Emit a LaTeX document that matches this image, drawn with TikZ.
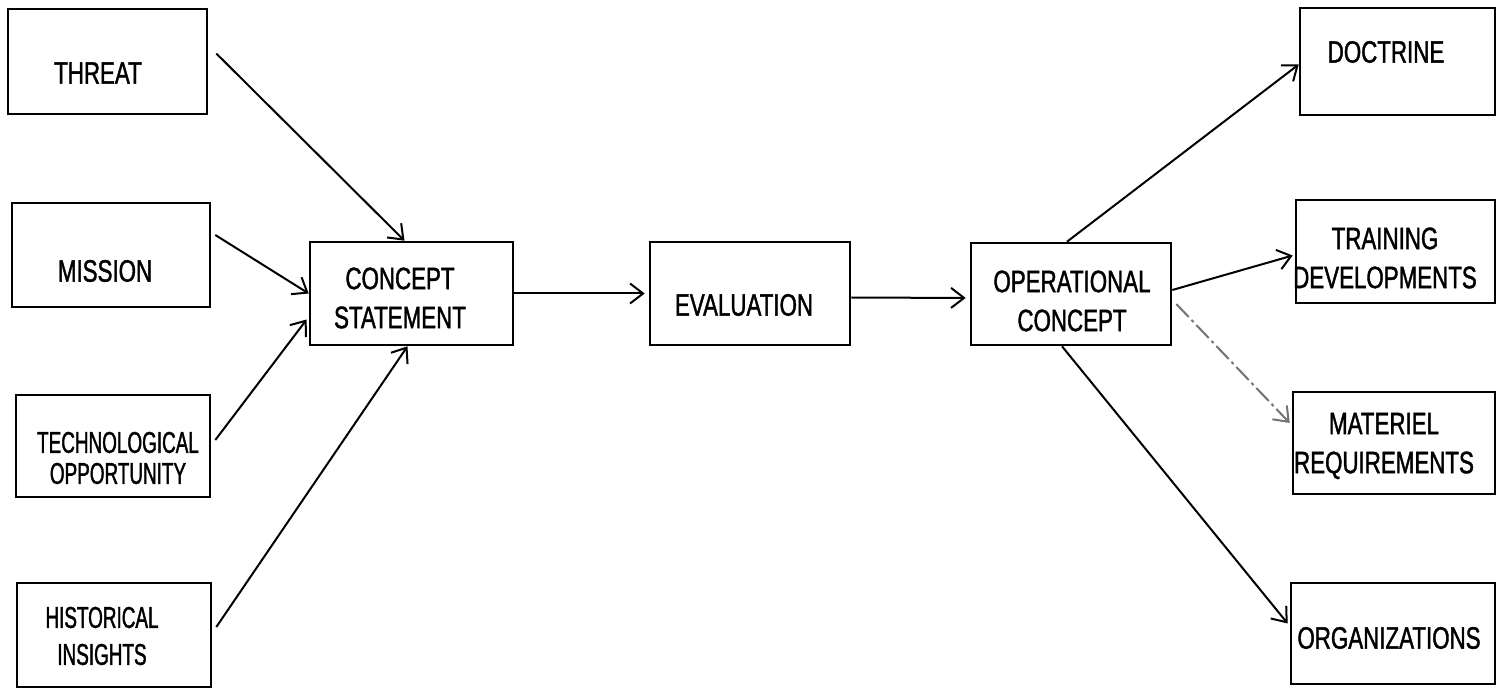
\documentclass[tikz,border=0pt]{standalone}
\usepackage{fontspec}
\setmainfont{Liberation Sans}[FakeStretch=0.72,FakeBold=1.3]
\newfontfamily\narrowfont{Liberation Sans}[FakeStretch=0.63,FakeBold=1.3]
\usetikzlibrary{arrows.meta}

\begin{document}
\begin{tikzpicture}[x=0.5pt,y=-0.5pt,
		box/.style={draw,line width=1.3pt,inner sep=0pt},
		lbl/.style={font=\fontsize{15.5}{19.5}\selectfont,align=center,inner sep=0pt},
		tight/.style={font=\narrowfont\fontsize{15}{#1}\selectfont,align=center,inner sep=0pt},
		arr/.style={-{Straight Barb[length=6.5pt,width=10pt]},line width=1pt},
		faint/.style={arr,black!55,dash pattern=on 9pt off 2pt on 1.5pt off 2pt}]
	\useasboundingbox (0,0) rectangle (1498,689);
	% inputs
	\node[box,minimum width=99.5pt,minimum height=52.5pt] (threat) at (107.5,61.5) {};
	\node[box,minimum width=99pt,minimum height=52pt] (mission) at (111,255) {};
	\node[box,minimum width=97pt,minimum height=51pt] (tech) at (113,446) {};
	\node[box,minimum width=97pt,minimum height=52pt] (hist) at (114,635) {};
	\node[lbl] (threat-l) at (98,73) {THREAT};
	\node[lbl] (mission-l) at (105,271) {MISSION};
	\node[tight=15.5] (tech-l) at (118,458) {TECHNOLOGICAL\\OPPORTUNITY};
	\node[tight=18.5] (hist-l) at (102,636) {HISTORICAL\\INSIGHTS};
	% main chain
	\node[box,minimum width=101.5pt,minimum height=51.5pt] (concept) at (411.5,293.5) {};
	\node[box,minimum width=100pt,minimum height=51.5pt] (eval) at (750,293.5) {};
	\node[box,minimum width=100pt,minimum height=51pt] (oper) at (1071,294) {};
	\node[lbl] (concept-l) at (400,298) {CONCEPT\\STATEMENT};
	\node[lbl] (eval-l) at (744,305) {EVALUATION};
	\node[lbl] (oper-l) at (1072,301) {OPERATIONAL\\CONCEPT};
	% outputs
	\node[box,minimum width=97.5pt,minimum height=53.5pt] (doctrine) at (1397.5,61.5) {};
	\node[box,minimum width=99.5pt,minimum height=51.5pt] (training) at (1395.5,251.5) {};
	\node[box,minimum width=101pt,minimum height=51pt] (materiel) at (1394,443) {};
	\node[box,minimum width=102pt,minimum height=50.5pt] (org) at (1393,633.5) {};
	\node[lbl] (doctrine-l) at (1386,52) {DOCTRINE};
	\node[lbl] (training-l) at (1385,258) {TRAINING\\DEVELOPMENTS};
	\node[lbl] (materiel-l) at (1384,446) {MATERIEL\\REQUIREMENTS};
	\node[lbl] (org-l) at (1389,638) {ORGANIZATIONS};
	% connectors
	\draw[arr] ([shift={(4pt,4pt)}]threat.east) -- ([xshift=-3.5pt]concept.north);
	\draw[arr] ([shift={(2pt,10pt)}]mission.east) -- (concept.west);
	\draw[arr] ([shift={(2pt,3pt)}]tech.east) -- ([shift={(-1pt,-13pt)}]concept.west);
	\draw[arr] ([shift={(2pt,4pt)}]hist.east) -- ([xshift=-2pt]concept.south);
	\draw[arr,shorten >=2pt] (concept.east) -- (eval.west);
	\draw[arr,shorten >=2pt] ([yshift=-2pt]eval.east) -- ([yshift=-2pt]oper.west);
	\draw[arr] ([xshift=-2pt]oper.north) -- ([yshift=-1.5pt]doctrine.west);
	\draw[arr] ([yshift=2pt]oper.east) -- ([shift={(-1pt,-2pt)}]training.west);
	\draw[faint] ([shift={(2pt,-5pt)}]oper.east) -- ([shift={(-1pt,10pt)}]materiel.west);
	\draw[arr] ([xshift=-4.5pt]oper.south) -- ([shift={(-1pt,5pt)}]org.west);
\end{tikzpicture}
\end{document}
